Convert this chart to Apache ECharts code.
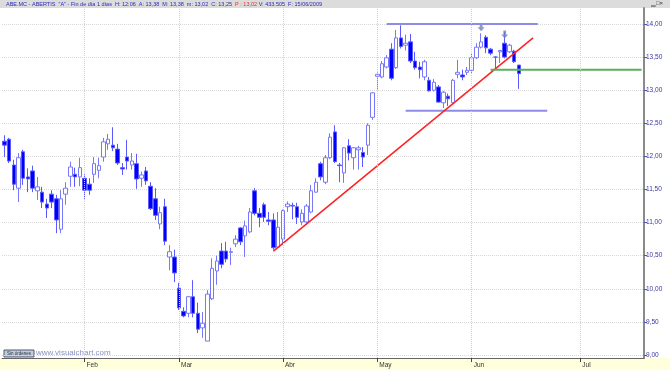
<!DOCTYPE html>
<html><head><meta charset="utf-8">
<script src="https://cdn.jsdelivr.net/npm/echarts@6/dist/echarts.min.js"></script>
<style>html,body{margin:0;padding:0;background:#fff}#c{width:670px;height:370px}</style>
</head><body><div id="c"></div>
<script>
// ---- data ----
const holidays = ['2009-04-10','2009-04-13','2009-05-01'];
const firstDate = '2009-01-08';
const slotCount = 136;           // trading-day slots shown on the axis (incl. future)
const opens  = [12.23,12.26,11.87,11.52,12.07,11.69,11.78,11.48,11.46,11.28,11.43,11.36,10.90,11.43,11.70,11.73,11.69,11.67,11.58,11.73,11.79,11.99,12.19,12.17,12.11,11.83,11.99,11.87,11.89,11.67,11.78,11.55,11.36,10.98,11.24,10.48,10.48,10.01,9.66,9.63,9.88,9.63,9.41,9.21,9.85,10.27,10.57,10.57,10.55,10.68,10.92,10.80,10.86,11.48,11.14,11.27,11.04,11.04,10.63,10.75,11.24,11.26,11.24,11.01,11.01,11.16,11.46,11.89,11.61,11.98,12.37,11.87,11.75,12.16,11.98,12.10,12.06,12.17,12.59,13.21,13.20,13.35,13.62,13.34,13.79,13.68,13.73,13.44,13.35,13.20,13.15,13.00,13.05,12.81,12.91,12.81,13.24,13.23,13.27,13.30,13.49,13.65,13.80,13.62,13.50,13.58,13.71,13.58,13.59,13.38];
const closes = [12.17,11.93,11.58,11.98,11.67,11.66,11.52,11.54,11.31,11.22,11.31,11.04,11.36,11.52,11.84,11.69,11.83,11.49,11.49,11.89,11.86,12.22,12.26,12.13,11.90,11.81,11.93,11.93,11.66,11.72,11.63,11.21,11.11,11.15,10.72,10.56,10.24,9.71,9.59,9.88,9.63,9.39,9.48,9.92,10.31,10.42,10.37,10.45,10.56,10.75,10.71,10.95,11.16,11.14,11.08,11.08,11.02,10.62,10.93,11.18,11.28,11.25,11.08,11.14,11.25,11.48,11.61,11.69,11.98,12.29,11.92,11.86,12.13,12.05,12.13,12.13,11.99,12.47,12.96,13.24,13.40,13.49,13.18,13.79,13.66,13.71,13.44,13.34,13.31,13.43,12.99,13.12,12.82,12.97,12.87,13.15,13.27,13.20,13.30,13.49,13.65,13.73,13.64,13.56,13.50,13.60,13.50,13.68,13.43,13.25];
const lows   = [11.99,11.90,11.49,11.31,11.57,11.46,11.46,11.34,11.22,11.07,11.22,10.84,10.84,11.27,11.54,11.54,11.55,11.36,11.42,11.60,11.67,11.92,12.10,12.08,11.87,11.72,11.80,11.80,11.51,11.54,11.57,11.19,11.04,10.90,10.66,10.28,10.10,9.68,9.57,9.57,9.57,9.33,9.26,9.21,9.83,10.06,10.31,10.40,10.36,10.63,10.66,10.48,10.84,11.11,10.93,11.01,10.96,10.59,10.62,10.66,11.16,11.05,10.98,10.96,10.97,11.14,11.45,11.64,11.58,11.96,11.90,11.61,11.60,11.94,11.80,11.80,11.84,12.02,12.55,13.00,13.18,13.33,13.15,13.32,13.63,13.60,13.41,13.31,13.18,13.15,12.98,12.98,12.81,12.73,12.76,12.80,13.18,13.15,13.23,13.26,13.47,13.63,13.56,13.53,13.32,13.41,13.48,13.56,13.41,13.02];
const highs  = [12.32,12.28,11.95,12.05,12.10,11.82,11.86,11.69,11.54,11.36,11.49,11.42,11.49,11.61,11.92,11.83,11.98,11.73,11.67,11.99,11.98,12.28,12.34,12.44,12.19,11.90,12.25,12.05,12.04,11.77,11.84,11.61,11.52,11.24,11.36,10.66,10.59,10.09,9.72,9.89,10.13,9.79,9.65,9.98,10.46,10.50,10.69,10.71,10.62,10.81,10.93,11.03,11.22,11.52,11.22,11.30,11.16,11.14,11.16,11.20,11.32,11.30,11.30,11.20,11.28,11.57,11.67,11.92,12.02,12.35,12.47,11.90,12.14,12.26,12.14,12.16,12.14,12.50,12.97,13.27,13.44,13.53,13.71,13.91,13.98,13.84,13.85,13.58,13.43,13.46,13.20,13.17,13.08,12.99,12.95,13.17,13.46,13.31,13.35,13.56,13.71,13.86,13.83,13.64,13.51,13.61,13.88,13.70,13.61,13.38];
const monthTicks = [['2009-02-02','Feb'],['2009-03-02','Mar'],['2009-04-01','Abr'],['2009-05-04','May'],['2009-06-01','Jun'],['2009-07-02','Jul']];
const yTickValues = [9,9.5,10,10.5,11,11.5,12,12.5,13,13.5,14];
const resistanceLine = [['2009-05-06',14.00],['2009-06-19',14.00]];
const supportLine    = [['2009-05-12',12.69],['2009-06-23',12.69]];
const trendLine      = [['2009-03-30',10.57],['2009-06-18',13.79]];
const stopLine       = [['2009-06-05',13.31],['2009-07-21',13.31]];
const arrowMarks     = [['2009-06-03',13.95],['2009-06-10',13.84]];
const headerParts = ['ABE.MC - ABERTIS  "A" - Fin de día 1 días  H: 12:06  A: 13,38  M: 13,38  m: 13,02  C: 13,25  ','P : 13,02',' V: 433.505  F: 15/06/2009'];

// ---- build trading-day categories ----
const dates = [];
(function(){
  const d = new Date(firstDate + 'T12:00:00Z');
  while (dates.length < slotCount) {
    const s = d.toISOString().slice(0,10);
    const wd = d.getUTCDay();
    if (wd !== 0 && wd !== 6 && holidays.indexOf(s) < 0) dates.push(s);
    d.setUTCDate(d.getUTCDate() + 1);
  }
})();
const monthMap = {}; monthTicks.forEach(m => monthMap[m[0]] = m[1]);
const candles = opens.map((o,i) => [o, closes[i], lows[i], highs[i]]);
const fmt = v => v.toFixed(2).replace('.', ',');
const FONT = 'Liberation Sans';

const chart = echarts.init(document.getElementById('c'), null, {renderer:'canvas'});
chart.setOption({
  animation: false,
  backgroundColor: '#ffffff',
  grid: [
    {left: 2, right: 26, top: 8, bottom: 12},
    {left: 2, right: 26, top: 24, bottom: 15}
  ],
  xAxis: [
    {type:'category', gridIndex:0, data: dates, boundaryGap: true,
     axisLine:{show:true, lineStyle:{color:'#666', width:1}},
     axisTick:{show:true, alignWithLabel:true, length:4, interval:(i,v)=>!!monthMap[v], lineStyle:{color:'#444'}},
     axisLabel:{show:true, interval:(i,v)=>!!monthMap[v], formatter:v=>monthMap[v]||'', align:'left', margin:4,
       padding:[0,0,0,2], fontSize:6.5, fontFamily:FONT, color:'#333'},
     splitLine:{show:false}},
    {type:'category', gridIndex:1, data: dates, boundaryGap: true, show:false}
  ],
  yAxis: [
    {type:'value', gridIndex:0, min:0, max:1, position:'right',
     axisLine:{show:true, lineStyle:{color:'#8a8a8a', width:2}},
     axisTick:{show:false}, axisLabel:{show:false}, splitLine:{show:false}},
    {type:'value', gridIndex:1, min:9, max:14, interval:0.5, position:'right',
     axisLine:{show:false},
     axisTick:{show:true, length:3, lineStyle:{color:'#5050b0'}},
     axisLabel:{show:true, margin:2, fontSize:6.5, fontFamily:FONT, color:'#3838a0',
       formatter: v => yTickValues.indexOf(v) >= 0 ? fmt(v) : ''},
     splitLine:{show:true, lineStyle:{color:'#d8d8d8', type:'dotted', width:1}}}
  ],
  graphic: [
    {type:'rect', z:-10, shape:{x:0, y:0, width:670, height:8}, style:{fill:'#dcdcdc'}},
    {type:'rect', z:-10, shape:{x:0, y:358, width:670, height:12}, style:{fill:'#ffffdc'}},
    {type:'text', x:6, y:1, style:{text:'{a|'+headerParts[0]+'}{b|'+headerParts[1]+'}{a|'+headerParts[2]+'}',
      rich:{a:{fontSize:5.5, fontFamily:FONT, fill:'#2828b8', color:'#2828b8'}, b:{fontSize:5.5, fontFamily:FONT, fill:'#e03030', color:'#e03030'}}}},
    {type:'text', x:651, y:0, style:{text:'▁□×', fontSize:6, fontFamily:FONT, fill:'#333'}},
    {type:'rect', shape:{x:4, y:350, width:30, height:7}, style:{fill:'#c4ccd8', stroke:'#4a5a70', lineWidth:1}},
    {type:'text', x:19, y:353.5, style:{text:'Sin órdenes', fontSize:4.5, fontFamily:FONT, fill:'#203040', align:'center', verticalAlign:'middle'}},
    {type:'text', x:36, y:353, style:{text:'www.visualchart.com', fontSize:8, fontFamily:FONT, fill:'#8890c0', verticalAlign:'middle'}}
  ],
  series: [
    {type:'line', xAxisIndex:0, yAxisIndex:0, data: monthTicks.map(m=>[m[0], 0.5]), symbol:'none',
     lineStyle:{opacity:0}, silent:true,
     markLine:{silent:true, symbol:'none', label:{show:false},
       lineStyle:{color:'#d0d0d0', type:'dotted', width:1},
       data: monthTicks.map(m=>({xAxis:m[0]}))}},
    {type:'candlestick', xAxisIndex:1, yAxisIndex:1, data: candles, barWidth:4,
     itemStyle:{color:'#ffffff', color0:'#0000ff', borderColor:'#7878fa', borderColor0:'#5a5aff', borderWidth:1},
     markLine:{silent:true, symbol:'none', lineStyle:{opacity:0},
       label:{show:true, position:'end', distance:4, formatter:()=>fmt(closes[closes.length-1]),
         fontSize:6, fontFamily:FONT, color:'#333', backgroundColor:'#ffffc8', borderColor:'#555', borderWidth:1, padding:[1,1,0,1]},
       data:[{yAxis: closes[closes.length-1]}]}},
    {type:'line', xAxisIndex:1, yAxisIndex:1, data: resistanceLine, symbol:'none', lineStyle:{color:'#8c8ce6', width:2}},
    {type:'line', xAxisIndex:1, yAxisIndex:1, data: supportLine, symbol:'none', lineStyle:{color:'#8c8ce6', width:2}},
    {type:'line', xAxisIndex:1, yAxisIndex:1, data: trendLine, symbol:'none', lineStyle:{color:'#ff2020', width:1.5}},
    {type:'line', xAxisIndex:1, yAxisIndex:1, data: stopLine, symbol:'none', lineStyle:{color:'#5cae5c', width:2}},
    {type:'scatter', xAxisIndex:1, yAxisIndex:1, data: arrowMarks,
     symbol:'path://M3,0 L7,0 L7,5 L10,5 L5,10 L0,5 L3,5 Z', symbolSize:[7,8],
     itemStyle:{color:'#7080b8'}}
  ]
});
</script></body></html>
